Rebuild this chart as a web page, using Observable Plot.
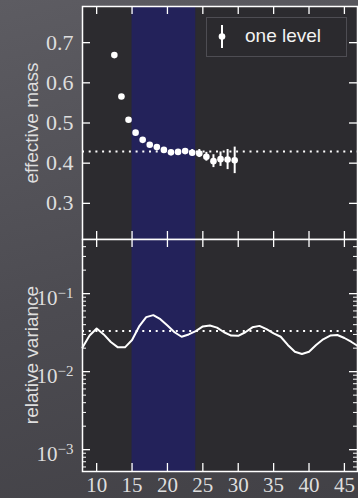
<!DOCTYPE html>
<html><head><meta charset="utf-8">
<script src="https://cdn.jsdelivr.net/npm/d3@7"></script>
<script src="https://cdn.jsdelivr.net/npm/@observablehq/plot@0.6"></script>
<style>
html,body{margin:0;padding:0;}
body{width:358px;height:498px;overflow:hidden;background:linear-gradient(165deg,#5d5c62 0%,#4c4b51 55%,#424146 100%);}
#wrap{position:relative;width:358px;height:498px;}
#wrap svg{position:absolute;left:0;overflow:visible;}
#legend{position:absolute;left:206px;top:17px;width:139px;height:38px;border:1px solid #4e4d53;background:#2b2a2e;}
#legend svg{position:absolute;left:0;top:0;}
#legend span{position:absolute;left:38px;top:7px;font-family:"Liberation Sans",Arial,sans-serif;font-size:19px;color:#f2f2f2;line-height:22px;}
</style></head><body><div id="wrap"></div>
<script>
// ---- data ----
const tEff = [12.5,13.5,14.5,15.5,16.5,17.5,18.5,19.5,20.5,21.5,22.5,23.5,24.5,25.5,26.5,27.5,28.5,29.5];
const mEff = [0.669,0.566,0.508,0.476,0.458,0.446,0.440,0.433,0.427,0.428,0.430,0.426,0.424,0.416,0.405,0.410,0.409,0.407];
const mErr = [0.003,0.003,0.003,0.003,0.003,0.003,0.003,0.003,0.003,0.004,0.006,0.008,0.010,0.011,0.016,0.018,0.025,0.033];
const plateau = [15, 24];
const massFit = 0.429;
const tVar = [8,9,10,11,12,13,14,15,16,17,18,19,20,21,22,23,24,25,26,27,28,29,30,31,32,33,34,35,36,37,38,39,40,41,42,43,44,45,46,47];
const relVar = [0.0204,0.029,0.0357,0.030,0.024,0.0205,0.0205,0.0254,0.038,0.050,0.053,0.047,0.039,0.032,0.028,0.030,0.033,0.038,0.039,0.0367,0.032,0.029,0.0288,0.032,0.037,0.0386,0.035,0.031,0.028,0.022,0.018,0.0168,0.018,0.022,0.026,0.029,0.0295,0.027,0.024,0.021];
const varRef = 0.0333;
const xTicks = [10,15,20,25,30,35,40,45];
const yTicksTop = [0.3,0.4,0.5,0.6,0.7];
const yTicksBottom = [1e-3,1e-2,1e-1];
const legendLabel = "one level";
const yLabelTop = "effective mass";
const yLabelBottom = "relative variance";

const effData = tEff.map((t,i)=>({t, m:mEff[i], e:mErr[i]}));
const varData = tVar.map((t,i)=>({t, v:relVar[i]}));
const yDomBottom = [Math.pow(10,-3.28), Math.pow(10,-0.306)];
const minorLog = [];
for (const d of [1e-4,1e-3,1e-2,1e-1]) for (let k=2;k<=9;k++) {
  const v = d*k;
  if (v > yDomBottom[0] && v < yDomBottom[1]) minorLog.push(v);
}

const W = 358, ML = 82, MR = 1;
const FW = W - ML - MR;
const xDom = [8, 46.85];
const serif = "Liberation Serif, Times New Roman, serif";
const sans = "Liberation Sans, Arial, sans-serif";
const frameFill = "#2c2b2f";
const bandFill = "#23225a";
const labelColor = "#dedede";

function tickMarks(FH, yTicks, minor) {
  const m = [
    Plot.tickX(xTicks, {x: d=>d, stroke:"#fff", strokeWidth:1.3, insetTop: FH-8}),
    Plot.tickX(xTicks, {x: d=>d, stroke:"#fff", strokeWidth:1.3, insetBottom: FH-8}),
    Plot.tickY(yTicks, {y: d=>d, stroke:"#fff", strokeWidth:1.3, insetRight: FW-8}),
    Plot.tickY(yTicks, {y: d=>d, stroke:"#fff", strokeWidth:1.3, insetLeft: FW-8})
  ];
  if (minor) {
    m.push(Plot.tickY(minor, {y: d=>d, stroke:"#fff", strokeWidth:1, insetRight: FW-4}));
    m.push(Plot.tickY(minor, {y: d=>d, stroke:"#fff", strokeWidth:1, insetLeft: FW-4}));
  }
  return m;
}

// ---- top panel ----
const H1 = 240, MT1 = 6, MB1 = 1;
const topPlot = Plot.plot({
  width: W, height: H1, marginLeft: ML, marginRight: MR, marginTop: MT1, marginBottom: MB1,
  style: {background: "transparent", color: labelColor, overflow: "visible"},
  x: {domain: xDom, axis: null},
  y: {domain: [0.21, 0.79]},
  marks: [
    Plot.frame({fill: frameFill}),
    Plot.rect([plateau], {x1: d=>d[0], x2: d=>d[1], fill: bandFill}),
    Plot.ruleY([massFit], {stroke:"#fff", strokeWidth:2, strokeDasharray:"2,4.7"}),
    Plot.ruleX(effData, {x:"t", y1: d=>d.m-d.e, y2: d=>d.m+d.e, stroke:"#fff", strokeWidth:2}),
    Plot.dot(effData, {x:"t", y:"m", r:3.3, fill:"#fff"}),
    ...tickMarks(H1-MT1-MB1, yTicksTop, null),
    Plot.frame({stroke:"#fff", strokeWidth:1.5}),
    Plot.axisY(yTicksTop, {tickSize:0, tickPadding:9, tickFormat: d3.format(".1f"), fontSize:22, fontFamily: serif, fill: labelColor, label: null})
  ]
});
topPlot.style.top = "0px";

// ---- bottom panel ----
const H2 = 259, MT2 = 1, MB2 = 26;
const botPlot = Plot.plot({
  width: W, height: H2, marginLeft: ML, marginRight: MR, marginTop: MT2, marginBottom: MB2,
  style: {background: "transparent", color: labelColor, overflow: "visible"},
  x: {domain: xDom},
  y: {type: "log", domain: yDomBottom},
  marks: [
    Plot.frame({fill: frameFill}),
    Plot.rect([plateau], {x1: d=>d[0], x2: d=>d[1], fill: bandFill}),
    Plot.ruleY([varRef], {stroke:"#fff", strokeWidth:2, strokeDasharray:"2,4.7"}),
    Plot.line(varData, {x:"t", y:"v", stroke:"#fff", strokeWidth:2}),
    ...tickMarks(H2-MT2-MB2, yTicksBottom, minorLog),
    Plot.frame({stroke:"#fff", strokeWidth:1.5}),
    Plot.axisY(yTicksBottom, {tickSize:0, tickPadding:9, tickFormat: d => String(Math.round(Math.log10(d))), fontSize:21, fontFamily: serif, fill: labelColor, label: null}),
    Plot.axisX(xTicks, {tickSize:0, tickPadding:6, fontSize:21, fontFamily: serif, fill: labelColor, label: null})
  ]
});
botPlot.style.top = "238px";

const wrap = document.getElementById("wrap");
wrap.appendChild(topPlot);
wrap.appendChild(botPlot);

// superscript exponents on log tick labels
d3.select(botPlot).selectAll('g[aria-label="y-axis tick label"] text').each(function() {
  const el = d3.select(this);
  const exp = el.text().replace("-", "\u2212");
  el.text(null);
  el.append("tspan").text("10");
  el.append("tspan").attr("font-size", 15).attr("dy", "-0.5em").text(exp);
  const tr = el.attr("transform") || "";
  el.attr("transform", tr + " translate(0,5)");
});

// axis titles
function addTitle(svg, text, cy) {
  d3.select(svg).append("text")
    .attr("transform", `translate(31,${cy}) rotate(-90)`)
    .attr("text-anchor", "middle").attr("dominant-baseline", "central")
    .attr("font-family", sans).attr("font-size", 19).attr("fill", labelColor)
    .text(text);
}
addTitle(topPlot, yLabelTop, 123);
addTitle(botPlot, yLabelBottom, 355 - 238);

// legend
const lg = document.createElement("div");
lg.id = "legend";
lg.innerHTML = `<svg width="30" height="38"><line x1="15" x2="15" y1="7" y2="30" stroke="#fff" stroke-width="2"/><circle cx="15" cy="18.5" r="3.3" fill="#fff"/></svg><span>${legendLabel}</span>`;
wrap.appendChild(lg);
</script>
</body></html>
